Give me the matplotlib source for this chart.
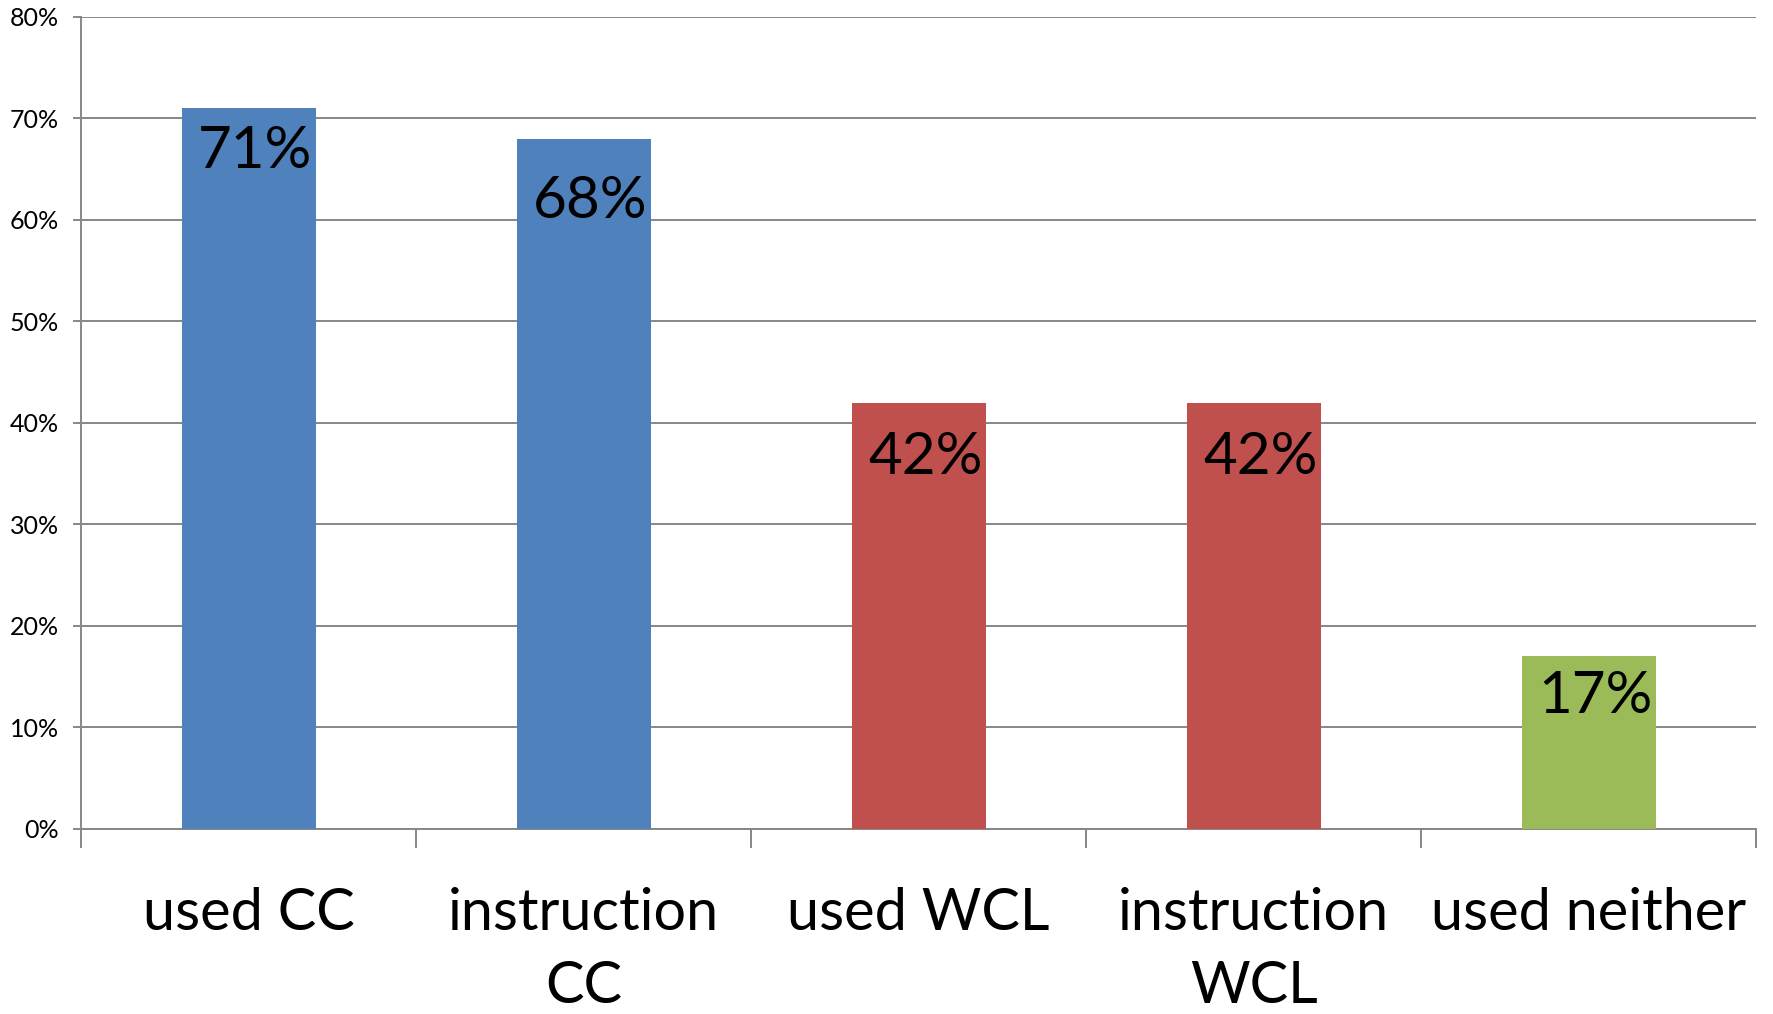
import matplotlib
matplotlib.use("Agg")
import matplotlib.pyplot as plt
from matplotlib.ticker import FuncFormatter, FixedLocator

plt.rcParams['font.family'] = ['Lato', 'DejaVu Sans']

# data
categories = ['used CC', 'instruction\nCC', 'used WCL', 'instruction\nWCL', 'used neither']
values = [71, 68, 42, 42, 17]
value_labels = ['71%', '68%', '42%', '42%', '17%']
bar_colors = ['#4F81BD', '#4F81BD', '#C0504D', '#C0504D', '#9BBB59']

# label baseline offsets below bar top (pixels), as placed in the original
LABEL_DY = [60, 79, 71, 71, 57]

GRID = '#878787'

fig = plt.figure(figsize=(17.73, 10.14), dpi=100)
ax = fig.add_axes([81 / 1773, 1 - 829 / 1014, (1756 - 81) / 1773, (829 - 16.7) / 1014])

x = list(range(len(categories)))
bars = ax.bar(x, values, width=0.4, color=bar_colors, zorder=3)

for b, lab, dy in zip(bars, value_labels, LABEL_DY):
    ax.annotate(lab, xy=(b.get_x() + b.get_width(), b.get_height()),
                xytext=(-3, -dy), textcoords='offset pixels',
                ha='right', va='baseline', fontsize=42, color='black', zorder=4)

ax.set_xlim(-0.5, len(categories) - 0.5)
ax.set_ylim(0, 80)

# y axis
ax.set_yticks(range(0, 81, 10))
ax.yaxis.set_major_formatter(FuncFormatter(lambda v, p: f'{int(v)}%'))
ax.yaxis.grid(True, color=GRID, linewidth=1.4, zorder=0)
ax.tick_params(axis='y', length=6, width=1.4, color=GRID, pad=10, labelsize=18)

# x axis: labels at centres, tick marks at category boundaries
ax.set_xticks(x)
ax.set_xticklabels(categories, fontsize=41.5, linespacing=1.45)
ax.tick_params(axis='x', which='major', length=0, pad=42)
ax.xaxis.set_minor_locator(FixedLocator([i - 0.5 for i in range(len(categories) + 1)]))
ax.tick_params(axis='x', which='minor', length=14, width=1.4, color=GRID)

for s in ['top', 'right']:
    ax.spines[s].set_visible(False)
for s in ['left', 'bottom']:
    ax.spines[s].set_color(GRID)
    ax.spines[s].set_linewidth(1.4)
ax.set_axisbelow(True)

fig.savefig('out.png', dpi=100, facecolor='white')
